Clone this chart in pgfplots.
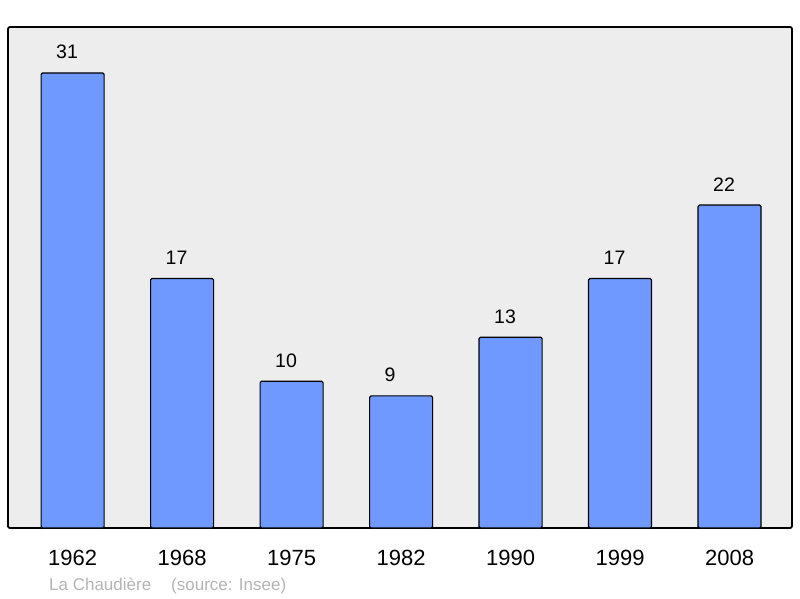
\documentclass[border=0pt]{standalone}
\usepackage{pgfplots}
\pgfplotsset{compat=1.18}
\usepackage{fontspec}
\setmainfont{Liberation Sans}
\definecolor{bg}{RGB}{237,237,237}
\definecolor{barblue}{RGB}{112,153,255}
\definecolor{srcgray}{RGB}{180,180,180}
\begin{document}
\begin{tikzpicture}[x=1pt,y=1pt]
\useasboundingbox (0,0) rectangle (800,598);
\begin{axis}[
  at={(8pt,70pt)}, anchor=south west,
  scale only axis, width=784pt, height=501pt,
  xmin=-0.59, xmax=6.57, ymin=0, ymax=34.13,
  axis background/.style={fill=bg},
  axis line style={line width=1.8pt, rounded corners=2pt},
  xtick=data,
  xticklabels={1962,1968,1975,1982,1990,1999,2008},
  ytick=\empty,
  major tick length=0pt,
  xticklabel style={font=\fontsize{22}{24}\selectfont, anchor=base, yshift=-37pt},
  /pgf/number format/assume math mode=true,
  ybar, bar width=63pt,
  nodes near coords,
  every node near coord/.append style={font=\fontsize{19.5}{22}\selectfont, anchor=base west, inner sep=0pt, xshift=-17pt, yshift=14pt, black},
  clip=false,
]
\addplot[fill=barblue, draw=black, line width=1.2pt, rounded corners=1.5pt] coordinates {
(0,31) (1,17) (2,10) (3,9) (4,13) (5,17) (6,22)};
\end{axis}
\node[anchor=base west, text=srcgray, font=\fontsize{17}{19}\selectfont, inner sep=0pt] at (49,8) {La Chaudière\hspace{20pt}(source: Insee)};
\end{tikzpicture}
\end{document}
